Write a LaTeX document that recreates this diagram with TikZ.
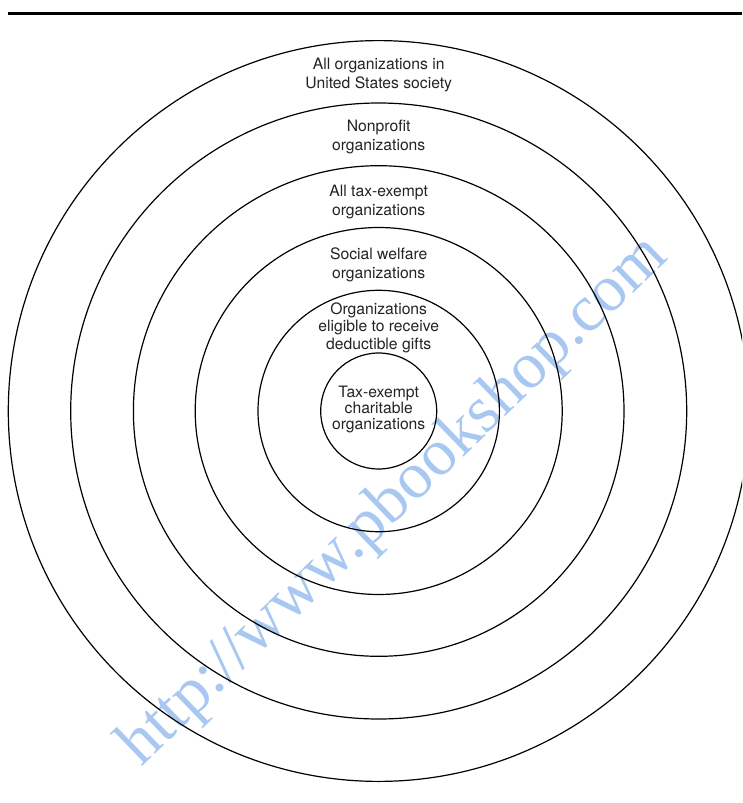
\documentclass[tikz,border=0pt]{standalone}
\usepackage{fontspec}
\setmainfont{TeX Gyre Heros}
\newfontfamily\wmfont{Liberation Serif}
\definecolor{wmblue}{RGB}{168,200,242}
\definecolor{txtgray}{RGB}{35,35,35}
\begin{document}
\begin{tikzpicture}[x=1pt,y=-1pt,
  ring/.style={circle,draw=black,line width=1.2pt,inner sep=0pt,outer sep=0pt},
  lbl/.style={align=center,inner sep=0pt,text=txtgray,font=\fontsize{15.7}{19}\selectfont},
  lblmid/.style={lbl,font=\fontsize{15.7}{17.5}\selectfont},
  lblin/.style={lbl,font=\fontsize{15.7}{16}\selectfont},
  wmark/.style={inner sep=0pt,text=wmblue,font=\wmfont\fontsize{66}{70}\selectfont,rotate=44,anchor=base}]
\useasboundingbox (0,0) rectangle (742,803);
\clip (0,0) rectangle (742,803);
% top rule
\coordinate (ruleL) at (8,13.3);
\coordinate (ruleR) at (742,13.3);
\draw[line width=2.7pt] (ruleL) -- (ruleR);
% watermark
\node[wmark] (wm) at (405.5,513) {http://www.pbookshop.com};
% rings
\coordinate (c) at (378.7,411);
\node[ring,minimum size=740.8pt] (r1) at (c) {};
\node[ring,minimum size=616pt] (r2) at (c) {};
\node[ring,minimum size=490.6pt] (r3) at (c) {};
\node[ring,minimum size=367pt] (r4) at (c) {};
\node[ring,minimum size=241.4pt] (r5) at (c) {};
\node[ring,minimum size=116pt] (r6) at (c) {};
% labels
\node[lbl] (t1) at (378.7,74.5) {All organizations in\\United States society};
\node[lbl] (t2) at (378.7,137.2) {Nonprofit\\organizations};
\node[lbl] (t3) at (378.7,202.2) {All tax-exempt\\organizations};
\node[lbl] (t4) at (378.7,265.1) {Social welfare\\organizations};
\node[lblmid] (t5) at (378.7,327.5) {Organizations\\eligible to receive\\deductible gifts};
\node[lblin] (t6) at (378.7,409) {Tax-exempt\\charitable\\organizations};
\end{tikzpicture}
\end{document}
